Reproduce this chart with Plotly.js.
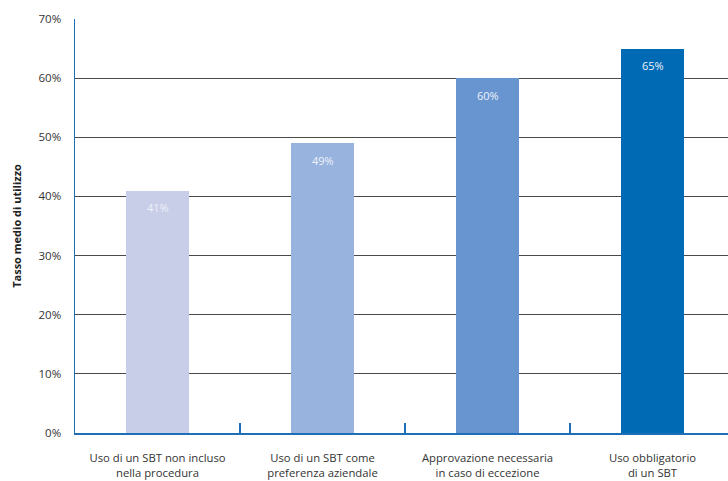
<!DOCTYPE html>
<html>
<head>
<meta charset="utf-8">
<script src="https://cdn.plot.ly/plotly-3.0.1.min.js"></script>
<style>
  html, body { margin: 0; padding: 0; background: #fff; overflow: hidden; }
  #wrap { width: 728px; height: 481px; overflow: hidden; }
</style>
</head>
<body>
<div id="wrap"><div id="chart"></div></div>
<script>
// Average usage rate by travel-policy type
const categories = [
  "Uso di un SBT non incluso<br>nella procedura",
  "Uso di un SBT come<br>preferenza aziendale",
  "Approvazione necessaria<br>in caso di eccezione",
  "Uso obbligatorio<br>di un SBT"
];
const values = [41, 49, 60, 65];
const barColors = ["#c8cde8", "#98b3de", "#6895cf", "#006ab4"];
const yTickValues = [0, 10, 20, 30, 40, 50, 60, 70];
const yTickLabels = ["0%", "10%", "20%", "30%", "40%", "50%", "60%", "70%"];

const axisBlue = "#1f6fb8";
const fontFamily = "'Open Sans', 'Noto Sans', sans-serif";

const trace = {
  type: "bar",
  x: categories,
  y: values,
  width: 0.376,
  marker: { color: barColors, line: { width: 0 } },
  hoverinfo: "skip"
};

// value labels placed just inside the top of each bar
const valueLabels = values.map((v, i) => ({
  x: categories[i],
  y: v,
  xref: "x",
  yref: "y",
  text: v + "%",
  showarrow: false,
  yshift: -17,
  font: { family: fontFamily, size: 11, color: "#eef2fa" }
}));

const layout = {
  width: 740,
  height: 481,
  margin: { l: 75, r: 5, t: 19, b: 48 },
  paper_bgcolor: "#ffffff",
  plot_bgcolor: "#ffffff",
  showlegend: false,
  font: { family: fontFamily, size: 12, color: "#333333" },
  bargap: 0,
  xaxis: {
    type: "category",
    range: [-0.5, 3.5],
    showline: true,
    linecolor: axisBlue,
    linewidth: 1.5,
    showgrid: false,
    zeroline: false,
    ticks: "inside",
    tickson: "boundaries",
    ticklen: 10,
    tickwidth: 1.5,
    tickcolor: axisBlue,
    ticklabelstandoff: 14,
    tickfont: { family: fontFamily, size: 11.3, color: "#333333" },
    fixedrange: true
  },
  yaxis: {
    range: [0, 70],
    tickvals: yTickValues,
    ticktext: yTickLabels,
    showline: true,
    linecolor: axisBlue,
    linewidth: 1.5,
    showgrid: true,
    gridcolor: "#4a4a4a",
    gridwidth: 1,
    zeroline: false,
    ticks: "",
    ticklabelstandoff: 10,
    tickfont: { family: fontFamily, size: 11.5, color: "#333333" },
    title: {
      text: "<b>Tasso medio di utilizzo</b>",
      font: { family: fontFamily, size: 11, color: "#222222" },
      standoff: 14
    },
    fixedrange: true
  },
  annotations: valueLabels
};

Plotly.newPlot("chart", [trace], layout, { staticPlot: true, displayModeBar: false });
</script>
</body>
</html>
